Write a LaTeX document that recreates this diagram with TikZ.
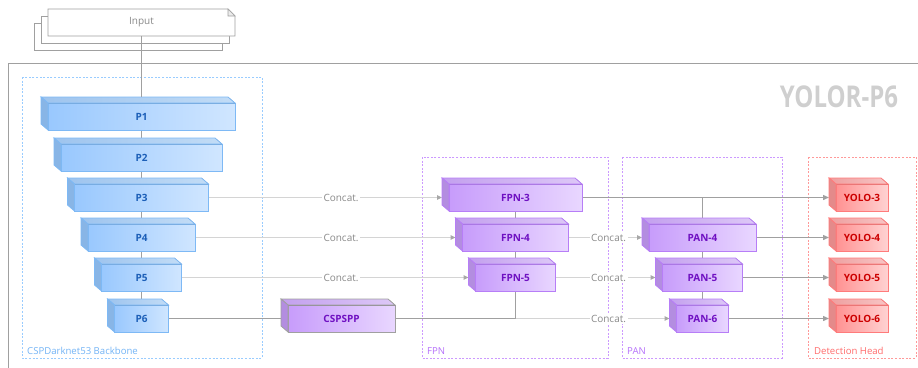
\documentclass[tikz,border=0pt]{standalone}
\usepackage{fontspec}
\setmainfont{Open Sans}
\usetikzlibrary{arrows.meta,calc,backgrounds}

% palette
\definecolor{frameC}{HTML}{A0A0A0}
\definecolor{linkD}{HTML}{A0A0A0}
\definecolor{linkL}{HTML}{D4D4D4}
\definecolor{tipL}{HTML}{A8A8A8}
\definecolor{lblC}{HTML}{8A8A8A}
\definecolor{titleC}{HTML}{CFCFCF}
% blue (backbone)
\definecolor{bBorder}{HTML}{7EB9F5}
\definecolor{bL}{HTML}{99C8FE}
\definecolor{bR}{HTML}{D0E6FF}
\definecolor{bTopL}{HTML}{9EC4EE}
\definecolor{bTopR}{HTML}{C2DCF6}
\definecolor{bSide}{HTML}{88B5E6}
\definecolor{bText}{HTML}{1C5FB8}
\definecolor{bBox}{HTML}{99CCFF}
\definecolor{bLbl}{HTML}{72B3F5}
% purple (neck)
\definecolor{pBorder}{HTML}{B77EF7}
\definecolor{pL}{HTML}{C79CFB}
\definecolor{pR}{HTML}{E9D7FF}
\definecolor{pTopL}{HTML}{C3A0EE}
\definecolor{pTopR}{HTML}{DDC8F7}
\definecolor{pSide}{HTML}{B38DE0}
\definecolor{pText}{HTML}{6F10C2}
\definecolor{pBox}{HTML}{CC99FF}
\definecolor{pLbl}{HTML}{B570FA}
% red (heads)
\definecolor{rBorder}{HTML}{FF7B7B}
\definecolor{rL}{HTML}{FF9292}
\definecolor{rR}{HTML}{FFD2D2}
\definecolor{rTopL}{HTML}{EE9F9F}
\definecolor{rTopR}{HTML}{F8C5C5}
\definecolor{rSide}{HTML}{E48A8A}
\definecolor{rText}{HTML}{CC0000}
\definecolor{rBox}{HTML}{FF9999}
\definecolor{rLbl}{HTML}{FF6B6B}

\tikzset{
  x=1pt, y=-1pt,
  block/.style={minimum height=27pt, inner sep=0pt, outer sep=0pt, line width=0.8pt,
    font=\fontsize{10}{12}\selectfont\bfseries},
  blue front/.style={block, draw=bBorder, left color=bL, right color=bR, text=bText},
  blue top/.style={draw=bBorder, line width=0.8pt, left color=bTopL, right color=bTopR},
  blue side/.style={draw=bBorder, line width=0.8pt, fill=bSide},
  purple front/.style={block, draw=pBorder, left color=pL, right color=pR, text=pText},
  purple top/.style={draw=pBorder, line width=0.8pt, left color=pTopL, right color=pTopR},
  purple side/.style={draw=pBorder, line width=0.8pt, fill=pSide},
  spp front/.style={purple front, draw=frameC},
  spp top/.style={purple top, draw=frameC},
  spp side/.style={purple side, draw=frameC},
  red front/.style={block, draw=rBorder, left color=rL, right color=rR, text=rText},
  red top/.style={draw=rBorder, line width=0.8pt, left color=rTopL, right color=rTopR},
  red side/.style={draw=rBorder, line width=0.8pt, fill=rSide},
  group/.style={line width=0.7pt, dash pattern=on 2pt off 1.6pt},
  grouplbl/.style={anchor=base west, inner sep=0pt, font=\fontsize{9.6}{11}\selectfont},
  dark link/.style={draw=linkD, line width=1.3pt},
  light link/.style={draw=linkL, line width=1pt},
  dark arrow/.style={dark link, -{Triangle[length=6pt,width=5pt]}},
  light arrow/.style={light link, -{Triangle[length=5pt,width=4.5pt,color=tipL]}},
  concat/.style={fill=white, inner sep=1.5pt, text=lblC, font=\fontsize{10}{12}\selectfont},
  doc/.style={draw=frameC, line width=0.9pt, fill=white},
}

% 3-D block: name, x, y, width, text, palette
\newcommand\cuboid[6]{%
  \node[#6 front, minimum width=#4pt] (#1) at (#2,#3) {#5};
  \filldraw[#6 top] (#1.north west) -- ++(-7,-6) -- ++(#4,0) -- (#1.north east) -- cycle;
  \filldraw[#6 side] (#1.north west) -- ++(-7,-6) -- ++(0,27) -- (#1.south west) -- cycle;
  \coordinate (#1-in) at ($(#1.west)+(-7,0)$);
}

\begin{document}
\begin{tikzpicture}
\useasboundingbox (0,0) rectangle (918,367);

% backbone
\cuboid{P1}{141.5}{116.5}{187}{P1}{blue}
\cuboid{P2}{141.5}{157.5}{161}{P2}{blue}
\cuboid{P3}{141.5}{197.5}{134}{P3}{blue}
\cuboid{P4}{141.5}{237.5}{107}{P4}{blue}
\cuboid{P5}{141.5}{277.5}{80}{P5}{blue}
\cuboid{P6}{141.5}{318.5}{54}{P6}{blue}

% SPP
\cuboid{SPP}{341.5}{318.5}{107}{CSPSPP}{spp}

% FPN
\cuboid{FPN3}{515.5}{197.5}{133}{FPN-3}{purple}
\cuboid{FPN4}{515.5}{237.5}{106}{FPN-4}{purple}
\cuboid{FPN5}{515.5}{277.5}{80}{FPN-5}{purple}

% PAN
\cuboid{PAN4}{702.5}{237.5}{107}{PAN-4}{purple}
\cuboid{PAN5}{702.5}{277.5}{80}{PAN-5}{purple}
\cuboid{PAN6}{702.5}{318.5}{52}{PAN-6}{purple}

% detection heads
\cuboid{Y3}{862}{197.5}{52}{YOLO-3}{red}
\cuboid{Y4}{862}{237.5}{52}{YOLO-4}{red}
\cuboid{Y5}{862}{277.5}{52}{YOLO-5}{red}
\cuboid{Y6}{862}{318.5}{52}{YOLO-6}{red}

% stacked input documents
\draw[doc] (34,23) rectangle (222,50);
\draw[doc] (41,16) rectangle (229,43);
\node[minimum width=187pt, minimum height=27pt, inner sep=0pt, outer sep=0pt] (input) at (141.5,22.5) {};
\filldraw[doc] (input.north west) -- ($(input.north east)+(-7,0)$) -- ($(input.north east)+(0,7)$)
  -- (input.south east) -- (input.south west) -- cycle;
\filldraw[draw=frameC, line width=0.6pt, fill=black!8] ($(input.north east)+(-7,0)$) -- ($(input.north east)+(-7,7)$) -- ($(input.north east)+(0,7)$) -- cycle;
\node[text=lblC, font=\fontsize{10}{12}\selectfont] at (input.center) {Input};
\draw[dark link, line width=1.1pt] (input.south) -- ($(P1.north)+(0,-6)$);

% title
\node[text=titleC, font=\fontsize{30}{34}\selectfont\bfseries] (title) at (839,97) {\scalebox{0.8}[1]{YOLOR-P6}};

\coordinate (c1) at (341,0);
\coordinate (c2) at (608.5,0);
\coordinate (j) at (FPN5.south |- SPP.east);
\coordinate (t) at (PAN4.north |- FPN3.east);

\begin{scope}[on background layer]
  % outer frame
  \draw[frameC, line width=1pt] (8,370) -- (8,63.5) -- (920,63.5);
  % groups
  \draw[group, bBox] (22,77) rectangle (262,358);
  \node[grouplbl, text=bLbl] at (27,354.5) {CSPDarknet53 Backbone};
  \draw[group, pBox] (422,157) rectangle (608,358);
  \node[grouplbl, text=pLbl] at (427,354.5) {FPN};
  \draw[group, pBox] (622,157) rectangle (782,358);
  \node[grouplbl, text=pLbl] at (627,354.5) {PAN};
  \draw[group, rBox] (808,157) rectangle (916,358);
  \node[grouplbl, text=rLbl] at (814,354.5) {Detection Head};

  % backbone chain
  \draw[dark link, line width=1.1pt] (P1.south) -- (P2.north);
  \draw[dark link, line width=1.1pt] (P2.south) -- (P3.north);
  \draw[dark link, line width=1.1pt] (P3.south) -- (P4.north);
  \draw[dark link, line width=1.1pt] (P4.south) -- (P5.north);
  \draw[dark link, line width=1.1pt] (P5.south) -- (P6.north);
  \draw[dark link] (P6.east) -- (SPP.west);

  % lateral concatenations into FPN
  \draw[light arrow] (P3.east) -- (c1 |- P3.east) node[concat] {Concat.} -- (FPN3-in);
  \draw[light arrow] (P4.east) -- (c1 |- P4.east) node[concat] {Concat.} -- (FPN4-in);
  \draw[light arrow] (P5.east) -- (c1 |- P5.east) node[concat] {Concat.} -- (FPN5-in);

  % top-down path
  \draw[dark link] (SPP.east) -- (j) -- (FPN5.south);
  \draw[dark link, line width=1.1pt] (FPN5.north) -- (FPN4.south);
  \draw[dark link, line width=1.1pt] (FPN4.north) -- (FPN3.south);

  % concatenations into PAN
  \draw[light arrow] (FPN4.east) -- (c2 |- FPN4.east) node[concat] {Concat.} -- (PAN4-in);
  \draw[light arrow] (FPN5.east) -- (c2 |- FPN5.east) node[concat] {Concat.} -- (PAN5-in);
  \draw[light arrow] (j) -- (c2 |- j) node[concat] {Concat.} -- (PAN6-in);

  % bottom-up path
  \draw[dark link] (t) -- (PAN4.north);
  \draw[dark link, line width=1.1pt] (PAN4.south) -- (PAN5.north);
  \draw[dark link, line width=1.1pt] (PAN5.south) -- (PAN6.north);

  % outputs to heads
  \draw[dark arrow] (FPN3.east) -- (Y3-in);
  \draw[dark arrow] (PAN4.east) -- (Y4-in);
  \draw[dark arrow] (PAN5.east) -- (Y5-in);
  \draw[dark arrow] (PAN6.east) -- (Y6-in);
\end{scope}
\end{tikzpicture}
\end{document}
